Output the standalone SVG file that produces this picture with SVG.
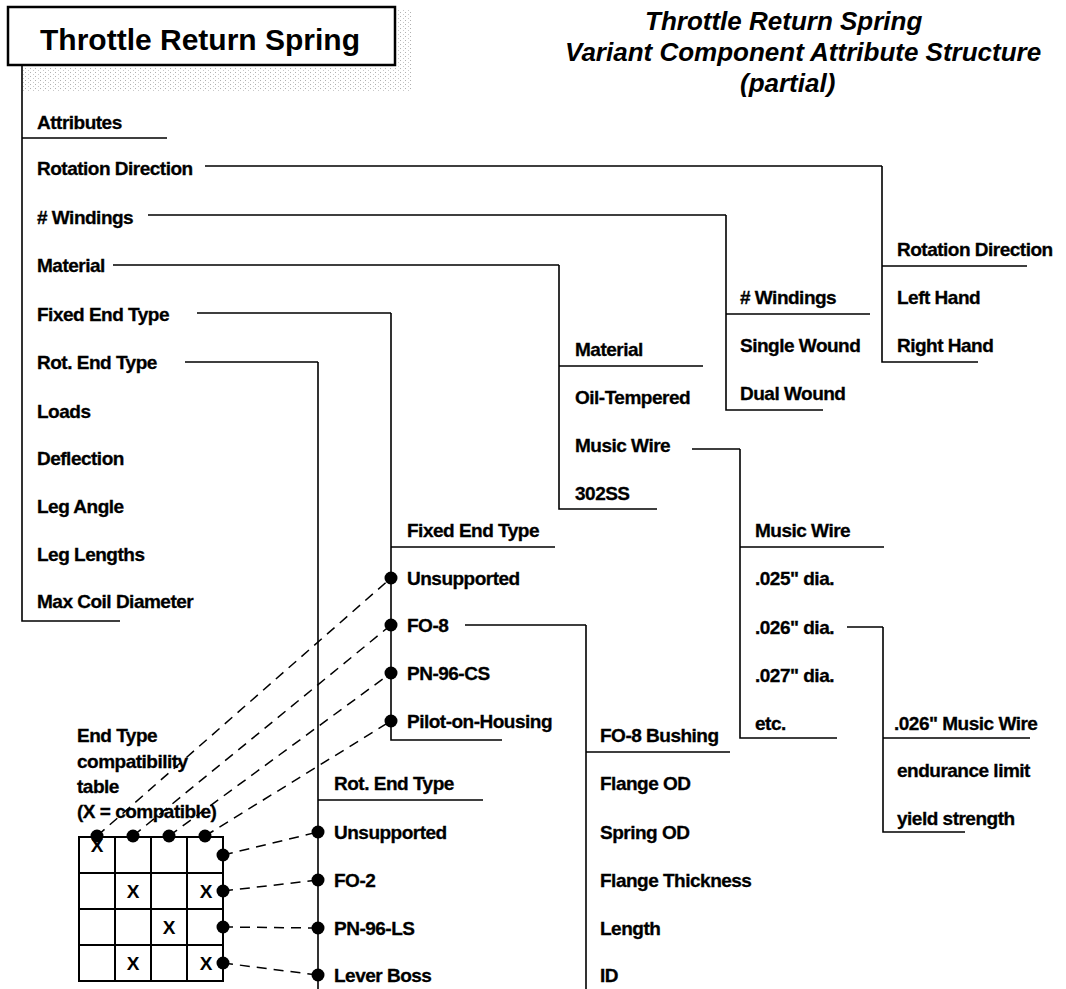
<svg xmlns="http://www.w3.org/2000/svg" width="1066" height="989" viewBox="0 0 1066 989">
<defs>
<style>
.t{font-family:"Liberation Sans",Arial,Helvetica,sans-serif;font-weight:bold;font-size:19px;letter-spacing:-0.5px;fill:#000;stroke:#000;stroke-width:0.3}
.ttl{font-family:"Liberation Sans",Arial,Helvetica,sans-serif;font-weight:bold;font-style:italic;font-size:26px;fill:#000}
.box{font-family:"Liberation Sans",Arial,Helvetica,sans-serif;font-weight:bold;font-size:30px;fill:#000}
.x{font-family:"Liberation Sans",Arial,Helvetica,sans-serif;font-weight:bold;font-size:19px;fill:#000;text-anchor:middle}
.ln{stroke:#000;stroke-width:1.6;fill:none}
.dash{stroke:#000;stroke-width:1.5;fill:none;stroke-dasharray:10 7}
.dot{fill:#000}
.grid{stroke:#000;stroke-width:2;fill:none}
</style>
<pattern id="stip" width="5" height="4" patternUnits="userSpaceOnUse">
<rect x="0" y="0" width="1" height="1" fill="#b0b0b0"/>
<rect x="3" y="2" width="1" height="1" fill="#c8c8c8"/>
</pattern>
</defs>
<rect width="1066" height="989" fill="#fff"/>

<g id="shadow">
<rect x="397" y="10" width="16" height="58" fill="url(#stip)"/>
<rect x="22" y="68" width="391" height="23" fill="url(#stip)"/>
</g>

<g id="title-box">
<rect x="8" y="7" width="387" height="58" fill="#fff" stroke="#000" stroke-width="2.5"/>
<text class="box" x="40" y="50">Throttle Return Spring</text>
</g>

<g id="diagram-title">
<text class="ttl" x="645" y="30">Throttle Return Spring</text>
<text class="ttl" x="565" y="61">Variant Component Attribute Structure</text>
<text class="ttl" x="740" y="92">(partial)</text>
</g>

<g id="attributes">
<path class="ln" d="M22 65 V621 H120 M22 138 H167"/>
<text class="t" x="37" y="129">Attributes</text>
<text class="t" x="37" y="175">Rotation Direction</text>
<text class="t" x="37" y="224"># Windings</text>
<text class="t" x="37" y="272">Material</text>
<text class="t" x="37" y="321">Fixed End Type</text>
<text class="t" x="37" y="369">Rot. End Type</text>
<text class="t" x="37" y="418">Loads</text>
<text class="t" x="37" y="465">Deflection</text>
<text class="t" x="37" y="513">Leg Angle</text>
<text class="t" x="37" y="561">Leg Lengths</text>
<text class="t" x="37" y="608">Max Coil Diameter</text>
</g>

<g id="rotation-direction">
<path class="ln" d="M882 166 V362 H978 M882 266 H1027"/>
<text class="t" x="897" y="256">Rotation Direction</text>
<text class="t" x="897" y="304">Left Hand</text>
<text class="t" x="897" y="352">Right Hand</text>
</g>

<g id="windings">
<path class="ln" d="M726 215 V410 H823 M726 314 H870"/>
<text class="t" x="740" y="304"># Windings</text>
<text class="t" x="740" y="352">Single Wound</text>
<text class="t" x="740" y="400">Dual Wound</text>
</g>

<g id="material">
<path class="ln" d="M559 265 V509 H657 M559 366 H703"/>
<text class="t" x="575" y="356">Material</text>
<text class="t" x="575" y="404">Oil-Tempered</text>
<text class="t" x="575" y="452">Music Wire</text>
<text class="t" x="575" y="500">302SS</text>
</g>

<g id="music-wire">
<path class="ln" d="M740 449 V738 H837 M740 547 H884"/>
<text class="t" x="755" y="537">Music Wire</text>
<text class="t" x="755" y="585">.025" dia.</text>
<text class="t" x="755" y="634">.026" dia.</text>
<text class="t" x="755" y="682">.027" dia.</text>
<text class="t" x="755" y="730">etc.</text>
</g>

<g id="music-wire-026">
<path class="ln" d="M883 627 V832 H965 M883 738 H1030"/>
<text class="t" x="894" y="730">.026" Music Wire</text>
<text class="t" x="897" y="777">endurance limit</text>
<text class="t" x="897" y="825">yield strength</text>
</g>

<g id="fixed-end-type">
<path class="ln" d="M391 313 V740 H502 M391 547 H555"/>
<text class="t" x="407" y="537">Fixed End Type</text>
<text class="t" x="407" y="585">Unsupported</text>
<text class="t" x="407" y="632">FO-8</text>
<text class="t" x="407" y="680">PN-96-CS</text>
<text class="t" x="407" y="728">Pilot-on-Housing</text>
</g>

<g id="fo8-bushing">
<path class="ln" d="M586 625 V989 M586 752 H730"/>
<text class="t" x="600" y="742">FO-8 Bushing</text>
<text class="t" x="600" y="790">Flange OD</text>
<text class="t" x="600" y="839">Spring OD</text>
<text class="t" x="600" y="887">Flange Thickness</text>
<text class="t" x="600" y="935">Length</text>
<text class="t" x="600" y="982">ID</text>
</g>

<g id="rot-end-type">
<path class="ln" d="M318 362 V989 M318 800 H483"/>
<text class="t" x="334" y="790">Rot. End Type</text>
<text class="t" x="334" y="839">Unsupported</text>
<text class="t" x="334" y="887">FO-2</text>
<text class="t" x="334" y="935">PN-96-LS</text>
<text class="t" x="334" y="982">Lever Boss</text>
</g>

<g id="compat-table">
<text class="t" x="77" y="742">End Type</text>
<text class="t" x="77" y="768">compatibility</text>
<text class="t" x="77" y="793">table</text>
<text class="t" x="77" y="818">(X = compatible)</text>
<rect class="grid" x="79" y="837" width="144" height="144"/>
<path class="grid" d="M115 837 V981 M151 837 V981 M187 837 V981 M79 873 H223 M79 909 H223 M79 945 H223"/>
<text class="x" x="97" y="852">X</text>
<text class="x" x="133" y="898">X</text>
<text class="x" x="206" y="898">X</text>
<text class="x" x="169" y="934">X</text>
<text class="x" x="133" y="970">X</text>
<text class="x" x="206" y="970">X</text>
</g>

<g id="connectors">
<path class="ln" d="M205 166 H882 M148 215 H726 M113 265 H559 M197 313 H391 M185 362 H318 M692 449 H740 M465 625 H586 M847 627 H883"/>
<path class="dash" d="M97 836 L391 578 M133 836 L391 625 M169 836 L391 673 M205 836 L391 721"/>
<path class="dash" d="M223 855 L318 832 M223 891 L318 880 M223 927 L318 928 M223 963 L318 975"/>
<g class="dot">
<circle cx="391" cy="578" r="6.5"/><circle cx="391" cy="625" r="6.5"/><circle cx="391" cy="673" r="6.5"/><circle cx="391" cy="721" r="6.5"/>
<circle cx="318" cy="832" r="6.5"/><circle cx="318" cy="880" r="6.5"/><circle cx="318" cy="928" r="6.5"/><circle cx="318" cy="975" r="6.5"/>
<circle cx="97" cy="836" r="6.5"/><circle cx="133" cy="836" r="6.5"/><circle cx="169" cy="836" r="6.5"/><circle cx="205" cy="836" r="6.5"/>
<circle cx="223" cy="855" r="6.5"/><circle cx="223" cy="891" r="6.5"/><circle cx="223" cy="927" r="6.5"/><circle cx="223" cy="963" r="6.5"/>
</g>
</g>
</svg>
